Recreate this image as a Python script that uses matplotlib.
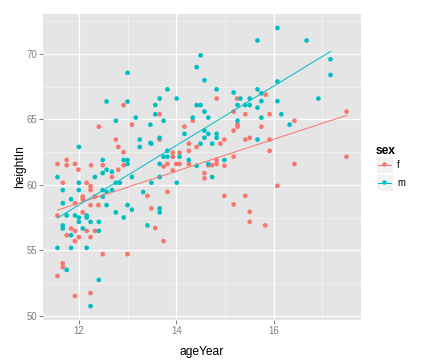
import numpy as np
import matplotlib
matplotlib.use("Agg")
import matplotlib.pyplot as plt
from matplotlib.patches import Rectangle

plt.rcParams['font.family'] = ['Liberation Sans', 'DejaVu Sans']

# ---- data: (ageYear, heightIn) ----
f_age = [12.92, 14.83, 15.25, 15.18, 15.42, 13.66, 15.84, 15.92, 17.5, 12.41, 13.09, 12.76,
         12.81, 12.92, 11.75, 11.56, 11.75, 11.92, 12.25, 12.49, 11.99, 12.81, 12.92, 12.68,
         11.67, 12.16, 12.24, 12.24, 12.08, 12.08, 12.33, 11.92, 12.24, 12.40, 12.08, 11.56,
         14.34, 14.17, 15.26, 15.26, 15.18, 15.51, 15.42, 13.66, 14.26, 14.91, 14.99, 14.42,
         14.26, 13.93, 14.07, 13.93, 15.18, 14.83, 13.74, 13.82, 14.0, 14.07, 14.26, 14.66,
         14.74, 14.83, 14.99, 13.93, 14.58, 14.58, 13.82, 13.41, 14.99, 15.42, 15.18, 13.49,
         15.51, 15.75, 16.43, 15.92, 15.92, 16.43, 17.5, 16.08, 11.84, 11.92, 12.16, 12.33,
         11.75, 12.0, 12.24, 11.92, 12.49, 13.0, 11.67, 11.67, 11.56, 12.24, 11.92, 13.57,
         13.74, 15.51, 15.83]
f_height = [66.1, 66.6, 66.6, 65.6, 65.4, 65.4, 66.9, 65.4, 65.6, 64.45, 64.6, 63.46,
            62.9, 62.5, 61.9, 61.6, 61.5, 61.6, 61.5, 61.5, 61.16, 61.16, 61.5, 60.6,
            60.16, 60.16, 59.9, 59.6, 59.1, 58.9, 59.1, 58.6, 58.45, 58.45, 57.9, 57.66,
            64.9, 64.45, 64.6, 64.45, 64.15, 63.6, 63.46, 63.46, 63.15, 63.15, 63.46, 62.9,
            62.6, 62.46, 62.46, 62.15, 62.15, 61.9, 61.4, 61.6, 61.6, 61.6, 61.6, 61.5,
            61.5, 61.6, 61.46, 61.1, 60.9, 60.5, 59.47, 59.16, 59.16, 59.16, 58.5, 58.2,
            57.94, 64.45, 64.9, 63.46, 62.6, 61.6, 62.15, 59.93, 56.67, 56.48, 56.48, 56.48,
            56.15, 56.0, 56.0, 55.7, 54.7, 54.7, 54.0, 53.7, 53.03, 51.73, 51.5, 56.7,
            55.7, 57.17, 56.9]

m_age = [13.0, 12.57, 13.0, 14.50, 14.42, 14.58, 14.83, 13.82, 13.66, 14.01, 13.57, 14.42,
         14.50, 14.58, 15.18, 15.32, 15.51, 15.26, 15.42, 15.51, 13.57, 16.08, 15.67, 16.68,
         17.17, 17.17, 16.08, 15.67, 15.75, 16.92, 15.75, 16.08, 15.67, 16.16,
         13.17, 12.76, 13.47, 13.25, 12.0, 13.25, 13.47, 12.49, 12.92, 13.0, 13.0, 12.49,
         12.57, 12.68, 13.09, 11.56, 11.67, 12.0, 12.33, 12.76, 12.84, 12.0, 12.49, 12.57,
         12.68, 13.32, 11.84, 12.49, 11.67, 12.57, 13.0, 13.09, 12.76, 11.75, 11.92, 12.0,
         12.16, 12.16, 12.92,
         14.66, 14.34, 13.74, 15.26, 14.17, 14.58, 14.66, 14.83, 14.83, 14.58, 13.66, 13.49,
         14.50, 14.74, 13.82, 13.74, 13.82, 14.07, 14.26, 14.99, 13.66, 14.42, 14.66, 14.74,
         13.66, 13.49, 14.01, 13.66, 13.66,
         15.75, 16.33, 15.67,
         12.0, 12.24, 12.41, 13.41, 11.67, 11.67, 12.08, 12.41, 11.84, 11.56, 11.84, 12.16,
         11.75, 12.41, 12.24]
m_height = [68.57, 66.37, 66.37, 69.9, 69.0, 68.0, 67.3, 67.3, 66.6, 66.6, 66.1, 66.1,
            66.1, 65.6, 67.06, 66.6, 66.6, 66.1, 66.1, 66.1, 65.4, 72.0, 71.04, 71.04,
            69.6, 68.4, 67.9, 67.3, 67.0, 66.6, 66.4, 66.4, 65.9, 65.4,
            65.14, 64.9, 64.6, 63.46, 62.9, 62.9, 63.2, 61.9, 61.9, 61.9, 61.6, 60.9,
            61.16, 61.0, 60.6, 60.6, 59.6, 60.16, 60.6, 60.16, 60.16, 59.6, 59.6, 59.47,
            59.6, 59.45, 58.9, 59.1, 58.6, 58.45, 58.45, 58.1, 57.9, 57.66, 57.66, 57.5,
            57.66, 57.5, 57.5,
            65.14, 65.14, 64.9, 64.9, 63.9, 64.15, 63.9, 63.9, 63.6, 63.6, 63.6, 63.15,
            63.15, 63.15, 62.6, 62.15, 62.15, 62.15, 61.9, 61.9, 61.6, 61.46, 61.6, 60.6,
            60.6, 60.16, 60.16, 58.2, 57.9,
            65.14, 64.6, 63.46,
            57.17, 57.17, 57.17, 56.9, 56.9, 56.67, 56.67, 56.48, 56.15, 55.18, 55.18, 55.18,
            53.5, 52.73, 50.73]

groups = ["f", "m"]
colors = {"f": "#F8766D", "m": "#00BFC4"}
x_ticks = [12, 14, 16]
y_ticks = [50, 55, 60, 65, 70]

data = {"f": (np.array(f_age), np.array(f_height)),
        "m": (np.array(m_age), np.array(m_height))}

W, H = 432, 360
fig = plt.figure(figsize=(W / 72, H / 72), dpi=72)
L, R, T, B = 43, 361, 14, 320
ax = fig.add_axes([L / W, 1 - B / H, (R - L) / W, (B - T) / H])
ax.set_facecolor("#E5E5E5")
for s in ax.spines.values():
    s.set_visible(False)

all_x = np.concatenate([data[g][0] for g in groups])
all_y = np.concatenate([data[g][1] for g in groups])
xr = all_x.max() - all_x.min()
yr = all_y.max() - all_y.min()
ax.set_xlim(all_x.min() - 0.05 * xr, all_x.max() + 0.05 * xr)
ax.set_ylim(all_y.min() - 0.05 * yr, all_y.max() + 0.05 * yr)

# gridlines
for v in [11, 13, 15, 17]:
    ax.axvline(v, color="#F2F2F2", lw=0.8, zorder=0.5)
for v in [52.5, 57.5, 62.5, 67.5, 72.5]:
    ax.axhline(v, color="#F2F2F2", lw=0.8, zorder=0.5)
for v in x_ticks:
    ax.axvline(v, color="white", lw=1.3, zorder=0.6)
for v in y_ticks:
    ax.axhline(v, color="white", lw=1.3, zorder=0.6)

for g in groups:
    x, y = data[g]
    ax.scatter(x, y, s=22, color=colors[g], edgecolors="none", zorder=2)
    k, b = np.polyfit(x, y, 1)
    xs = np.array([x.min(), x.max()])
    ax.plot(xs, k * xs + b, color=colors[g], lw=1.0, zorder=3)

ax.set_xticks(x_ticks)
ax.set_yticks(y_ticks)
ax.tick_params(axis="both", colors="#7F7F7F", length=4, width=1,
               labelsize=9.6, labelcolor="#7F7F7F", pad=2)
ax.set_xlabel("ageYear", fontsize=12, color="black", labelpad=10)
ax.set_ylabel("heightIn", fontsize=12, color="black", labelpad=0)

# legend drawn manually in pixel coords
lax = fig.add_axes([0, 0, 1, 1])
lax.set_xlim(0, W)
lax.set_ylim(H, 0)
lax.axis("off")
lax.text(376, 151, "sex", fontsize=12, fontweight="bold", va="center", ha="left")
for i, g in enumerate(groups):
    y0 = 156 + i * 18
    lax.add_patch(Rectangle((376, y0), 17, 17, facecolor="#F2F2F2", edgecolor="white", lw=1))
    lax.plot([378, 391], [y0 + 8.5, y0 + 8.5], color=colors[g], lw=1.0)
    lax.scatter([384.5], [y0 + 8.5], s=20, color=colors[g], edgecolors="none")
    lax.text(397, y0 + 8.5, g, fontsize=9.6, va="center", ha="left")

fig.savefig("out.png", dpi=72)
